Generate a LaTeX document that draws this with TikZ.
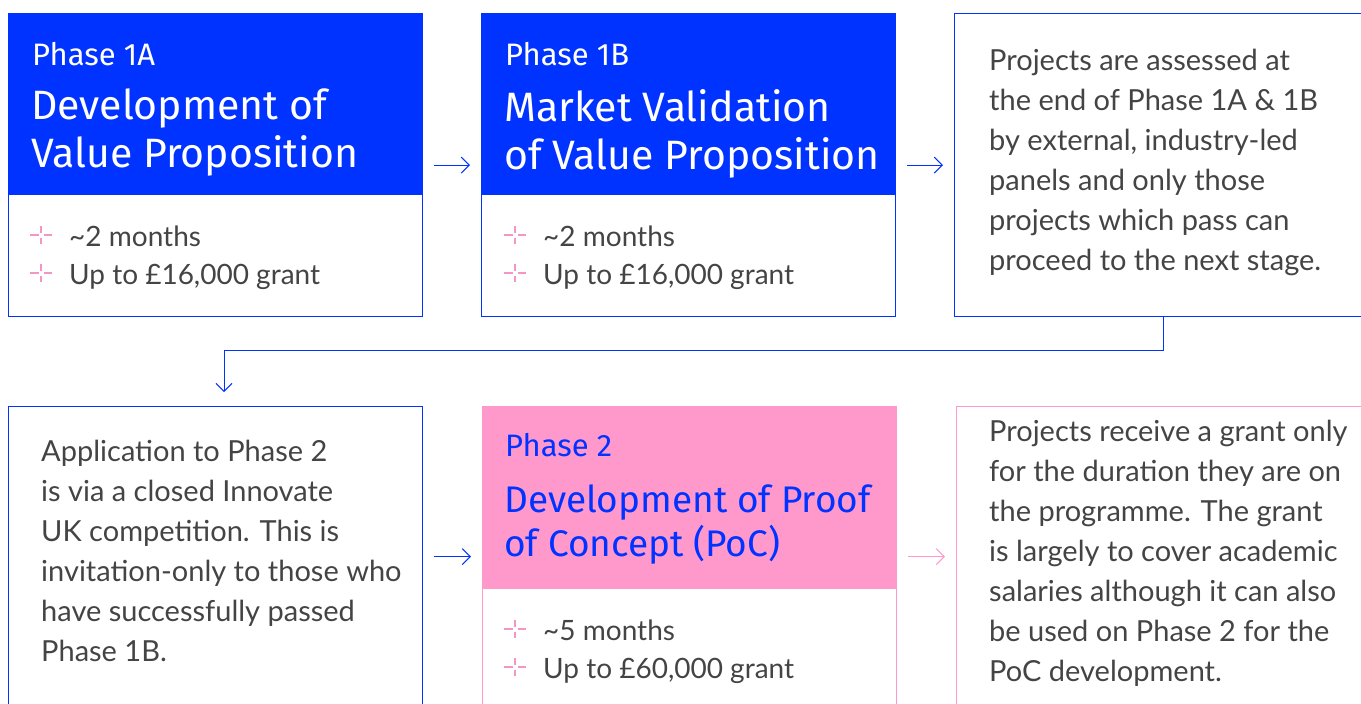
\documentclass[tikz,border=0pt]{standalone}
\usepackage{fontspec}
\setmainfont{Lato}
\newfontfamily\headfont{Fira Sans}
\usetikzlibrary{positioning, calc, arrows.meta}
\definecolor{iukblue}{RGB}{0, 51, 255}
\definecolor{iukpink}{RGB}{255, 153, 204}
\definecolor{sparkpink}{RGB}{244, 150, 196}
\definecolor{bodygrey}{RGB}{68, 68, 68}

\begin{document}
\begin{tikzpicture}[x=1pt, y=-1pt,
    stagebox/.style={draw=#1, line width=1.2pt, minimum width=414pt, minimum height=303pt, anchor=north west, inner sep=0pt},
    header/.style={fill=#1, minimum width=414pt, minimum height=182pt, anchor=north west, inner sep=0pt},
    phase/.style={anchor=west, inner sep=0pt, font=\headfont\fontsize{31}{36}\selectfont},
    title/.style={anchor=north west, inner sep=0pt, align=left, font=\headfont\fontsize{41}{48}\selectfont},
    body/.style={anchor=north west, inner sep=0pt, align=left, text=bodygrey, font=\fontsize{29}{40}\selectfont},
    fact/.style={anchor=base west, inner sep=0pt, text=bodygrey, font=\fontsize{28}{32}\selectfont},
    flow/.style={-{Straight Barb[length=8pt, width=16pt]}, line width=1pt, shorten >=11pt, shorten <=11pt},
    spark/.pic={\draw[sparkpink, line width=2pt] (-11,0) -- (-2.5,0) (2.5,0) -- (11,0) (0,-9) -- (0,-2.5) (0,2.5) -- (0,9);}
]
    \useasboundingbox (0,0) rectangle (1361,704);
    \clip (0,0) rectangle (1361,704);

    % Phase 1A
    \node[header=iukblue] (h1a) at (8,13) {};
    \node[stagebox=iukblue] (p1a) at (8,13) {};
    \node[phase, white] (n1a) at (32,54) {Phase 1A};
    \node[title, white] (t1a) at (31,89) {Development of\\Value Proposition};
    \pic at (41,235) {spark};
    \node[fact] (f1a) at (69,246) {\textasciitilde2 months};
    \pic at (41,273) {spark};
    \node[fact] (g1a) at (69,284) {Up to £16,000 grant};

    % Phase 1B
    \node[header=iukblue] (h1b) at (481,13) {};
    \node[stagebox=iukblue] (p1b) at (481,13) {};
    \node[phase, white] (n1b) at (505,54) {Phase 1B};
    \node[title, white] (t1b) at (504,89) {Market Validation\\of Value Proposition};
    \pic at (515,235) {spark};
    \node[fact] (f1b) at (543,246) {\textasciitilde2 months};
    \pic at (515,273) {spark};
    \node[fact] (g1b) at (543,284) {Up to £16,000 grant};

    % Assessment note
    \node[stagebox=iukblue, minimum width=418pt] (p3) at (954,13) {};
    \node[body] (b3) at (989,49) {Projects are assessed at\\the end of Phase 1A \& 1B\\by external, industry-led\\panels and only those\\projects which pass can\\proceed to the next stage.};

    % Application to Phase 2
    \node[stagebox=iukblue, minimum height=300pt] (p4) at (8,406) {};
    \node[body] (b4) at (41,440) {Application to Phase 2\\is via a closed Innovate\\UK competition. This is\\invitation-only to those who\\have successfully passed\\Phase 1B.};

    % Phase 2
    \node[header=iukpink, minimum height=183pt] (h2) at (482,406) {};
    \node[stagebox=iukpink, minimum height=300pt] (p5) at (482,406) {};
    \node[phase, iukblue] (n2) at (505,445) {Phase 2};
    \node[title, iukblue, font=\headfont\fontsize{37}{44}\selectfont] (t2) at (504,485) {Development of Proof\\of Concept (PoC)};
    \pic at (515,629) {spark};
    \node[fact] (f2) at (543,640) {\textasciitilde5 months};
    \pic at (515,667) {spark};
    \node[fact] (g2) at (543,678) {Up to £60,000 grant};

    % Grant note
    \node[stagebox=iukpink, minimum width=418pt, minimum height=300pt] (p6) at (956,406) {};
    \node[body] (b6) at (989,420) {Projects receive a grant only\\for the duration they are on\\the programme. The grant\\is largely to cover academic\\salaries although it can also\\be used on Phase 2 for the\\PoC development.};

    % Connectors
    \coordinate (bend) at (224,350);
    \draw[flow, iukblue] (p1a.east) -- (p1b.west);
    \draw[flow, iukblue] (p1b.east) -- (p3.west);
    \draw[flow, iukblue, shorten <=0pt, shorten >=14pt] (p3.south) |- (bend) -- (bend |- p4.north);
    \draw[flow, iukblue] (p4.east) -- (p5.west);
    \draw[flow, iukpink] (p5.east) -- (p6.west);
\end{tikzpicture}
\end{document}
